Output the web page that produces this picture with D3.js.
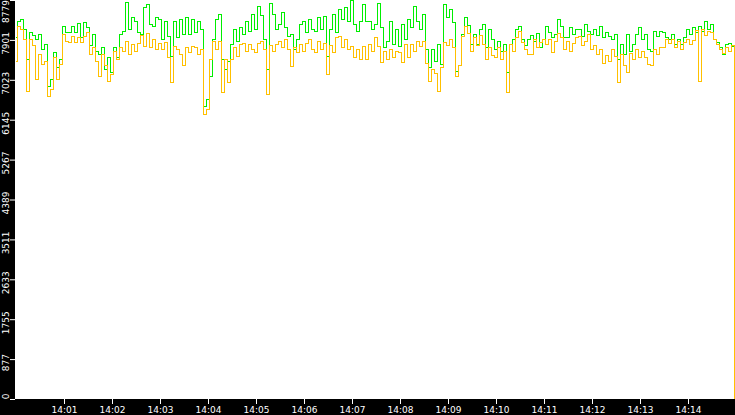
<!DOCTYPE html>
<html>
<head>
<meta charset="utf-8">
<script src="https://cdn.jsdelivr.net/npm/d3@7"></script>
<style>
    body { margin: 0; background: #000; }
    svg { display: block; }
    text { font-family: "DejaVu Sans", sans-serif; font-size: 9px; fill: #fff; }
</style>
</head>
<body>
<div id="grafico"></div>
<script>
// Datos: una muestra cada 3,75 segundos desde las 14:00
const horaInicio = "14:00";
const pasoSegundos = 3.75;

const serieVerde = [
    7943, 8295, 8339, 8119, 7459, 8053, 7987, 7899, 8009, 7679,
    7789, 6865, 7019, 7613, 7283, 7459, 8185, 8053, 8053, 8185,
    8053, 8251, 7943, 8273, 8163, 7767, 8009, 7635, 7569, 7723,
    7239, 7503, 7173, 7723, 7503, 8009, 8075, 8735, 8119, 8383,
    8295, 8053, 8009, 8603, 8669, 8229, 8185, 8383, 8339, 7899,
    8295, 7965, 7525, 8295, 7943, 8339, 8009, 8383, 8009, 8339,
    8053, 8295, 8119, 6425, 6579, 7085, 7899, 8339, 8449, 7459,
    7239, 7415, 7789, 8119, 7855, 8163, 8009, 8295, 8075, 8449,
    8119, 8625, 8427, 7899, 7239, 8713, 8449, 8119, 8229, 8493,
    8163, 7965, 8009, 7679, 7899, 8229, 8295, 8053, 8339, 8119,
    8075, 8383, 8119, 8405, 7525, 8119, 8449, 8053, 8559, 8339,
    8603, 8295, 8779, 8229, 8075, 8295, 8669, 8295, 8295, 8119,
    8229, 8713, 8163, 7723, 7855, 8295, 7789, 8119, 7745, 8229,
    7899, 8339, 8163, 8625, 8295, 8119, 8449, 7679, 7283, 7679,
    7415, 7789, 7349, 8669, 8383, 8559, 8273, 7195, 7327, 8009,
    8383, 8207, 7789, 8009, 7789, 8119, 8229, 7723, 8119, 7899,
    7679, 7855, 7635, 7789, 7173, 7789, 7899, 8119, 8185, 7899,
    7767, 7899, 7987, 7855, 8031, 7723, 7899, 8185, 8053, 7943,
    8009, 8339, 8185, 7943, 7943, 8163, 8009, 8119, 8119, 7965,
    8229, 8075, 8009, 8119, 7987, 8185, 7943, 8053, 7965, 7899,
    8009, 7459, 7789, 7569, 8009, 7635, 7789, 8009, 8163, 7899,
    8009, 7679, 7635, 8075, 7965, 8075, 8053, 7943, 7899, 8009,
    7789, 7899, 7789, 7943, 8119, 8009, 8163, 8053, 8185, 8075,
    8295, 8119, 8229, 7899, 7833, 7723, 7569, 7789, 7811, 7745,
    0
];

const serieNaranja = [
    7415, 8185, 8119, 7899, 6755, 7899, 7767, 7019, 7569, 7349,
    7415, 6645, 6799, 7503, 7019, 7349, 8009, 7855, 7833, 7965,
    7833, 7943, 7833, 7965, 8053, 7569, 7723, 7415, 7085, 7569,
    7327, 6975, 7129, 7635, 7459, 7723, 7635, 7855, 7569, 7789,
    7635, 7811, 7987, 7745, 8031, 7723, 7899, 7679, 7811, 7679,
    7833, 7503, 6953, 7745, 7679, 7569, 7327, 7723, 7613, 7745,
    7723, 7569, 7679, 6249, 6359, 7459, 7855, 7679, 7855, 6733,
    7459, 6953, 7459, 7723, 7525, 7789, 7811, 7635, 7789, 7679,
    7613, 7811, 7855, 7679, 6689, 7767, 7635, 7789, 7855, 7723,
    7899, 7679, 7305, 7723, 7613, 7789, 7635, 7811, 7899, 7679,
    7613, 7855, 7679, 7811, 7129, 7767, 7613, 7943, 7965, 7723,
    7899, 7679, 7745, 7503, 7679, 7459, 7745, 7459, 7789, 7635,
    7943, 7745, 7393, 7635, 7459, 7679, 7503, 7635, 7613, 7393,
    7789, 7503, 7789, 7635, 7855, 7745, 7855, 7371, 6975, 7239,
    7151, 6755, 7283, 7833, 7767, 7899, 7723, 7085, 7327, 7965,
    8185, 8031, 7635, 7943, 7767, 7987, 7789, 7459, 7723, 7547,
    7503, 7723, 7459, 7635, 6733, 7789, 7635, 7943, 8075, 7833,
    7679, 7569, 7569, 7899, 7723, 7833, 7899, 7789, 7899, 7613,
    7855, 8031, 7943, 7679, 7855, 7635, 7811, 7943, 7965, 7767,
    7855, 8009, 7679, 7767, 7569, 7679, 7371, 7547, 7415, 7679,
    7525, 6953, 7569, 7327, 7173, 7591, 7459, 7679, 7503, 7635,
    7503, 7349, 7327, 7679, 7569, 7723, 7723, 7899, 7811, 7899,
    7723, 7855, 7679, 7833, 7899, 7789, 7877, 8097, 6975, 8119,
    7987, 8075, 8053, 7899, 7789, 7679, 7591, 7723, 7635, 7767,
    0
];

const marcasY = [0, 877.9, 1755.8, 2633.7, 3511.6, 4389.5, 5267.4, 6145.3, 7023.2, 7901.1, 8779];
const marcasX = ["14:01", "14:02", "14:03", "14:04", "14:05", "14:06", "14:07",
                 "14:08", "14:09", "14:10", "14:11", "14:12", "14:13", "14:14"];

function dibujarGrafico()
{
    const ancho = 735,
          altura = 415,
          margen = { izquierda: 15, abajo: 16 },
          parseHora = d3.timeParse("%H:%M");

    const inicio = parseHora(horaInicio);
    const fin = d3.timeMinute.offset(inicio, 15);

    //Escalas
    var x = d3.scaleTime()
        .domain([inicio, fin])
        .range([margen.izquierda + 1, ancho + 1]);

    var y = d3.scaleLinear()
        .domain([0, 8779])
        .range([altura - margen.abajo, 0]);

    var svg = d3.select("#grafico").append("svg")
        .attr("width", ancho)
        .attr("height", altura);

    //Fondo negro y area blanca del grafico
    svg.append("rect")
        .attr("width", ancho)
        .attr("height", altura)
        .attr("fill", "#000");

    svg.append("rect")
        .attr("x", margen.izquierda)
        .attr("y", 0)
        .attr("width", ancho - margen.izquierda)
        .attr("height", altura - margen.abajo)
        .attr("fill", "#fff");

    //Lineas de las dos series
    var tiempo = function (i) { return new Date(inicio.getTime() + i * pasoSegundos * 1000); };

    var linea = d3.line()
        .x(function (d, i) { return x(tiempo(i)); })
        .y(function (d) { return y(d); })
        .curve(d3.curveStep);

    var zona = svg.append("g");

    zona.append("clipPath")
        .attr("id", "recorte")
        .append("rect")
        .attr("x", margen.izquierda)
        .attr("width", ancho - margen.izquierda)
        .attr("height", altura - margen.abajo);

    var series = zona.append("g").attr("clip-path", "url(#recorte)");

    [[serieVerde, "#00ee00"], [serieNaranja, "#ffc000"]].forEach(function (s) {
        series.append("path")
            .datum(s[0])
            .attr("d", linea)
            .attr("fill", "none")
            .attr("stroke", s[1])
            .attr("stroke-width", 1)
            .style("shape-rendering", "crispEdges");
    });

    //Eje Y con etiquetas giradas
    var ejeY = svg.append("g")
        .attr("transform", "translate(" + margen.izquierda + ",0)")
        .call(d3.axisLeft(y)
            .tickValues(marcasY)
            .tickSize(5)
            .tickFormat(function (d) { return Math.floor(d); }));

    ejeY.select(".domain").remove();
    ejeY.selectAll("line").attr("stroke", "#fff");
    ejeY.selectAll("text")
        .attr("x", 0)
        .attr("y", 0)
        .attr("dy", 0)
        .attr("text-anchor", "middle")
        .attr("fill", "#fff")
        .attr("transform", function (d) {
            var centro = Math.min(Math.max(y(d) + 3, 11), altura - margen.abajo - 3);
            return "translate(-6.5," + (centro - y(d)) + ") rotate(-90)";
        });

    //Eje X con las horas
    var ejeX = svg.append("g")
        .attr("transform", "translate(0," + (altura - margen.abajo) + ")")
        .call(d3.axisBottom(x)
            .tickValues(marcasX.map(parseHora))
            .tickSize(5)
            .tickFormat(d3.timeFormat("%H:%M")));

    ejeX.select(".domain").remove();
    ejeX.selectAll("line").attr("stroke", "#fff");
    ejeX.selectAll("text").attr("fill", "#fff");
}

dibujarGrafico();
</script>
</body>
</html>
